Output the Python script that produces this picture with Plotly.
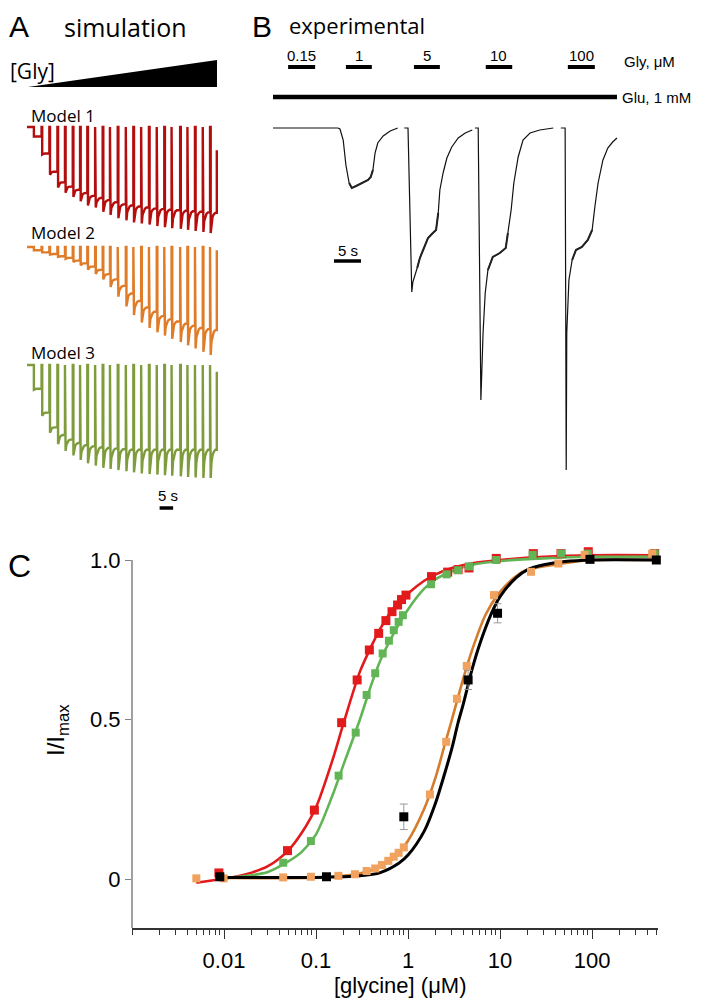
"""
Glycine dose-response figure: simulated traces (A), experimental trace (B), Hill curves (C).
"""

import plotly.graph_objects as go

# the page body keeps its default 8 px margin, so the figure is a bit smaller
# than the window and all positions below are given in window pixels
OFF = 8
W, H = 710 - OFF, 999 - OFF


def fx(px):
    return (px - OFF) / W


def fy(py):
    return 1 - (py - OFF) / H


# ---------------- panel A: simulated pulse trains ----------------
pulse_onsets = [2.4, 5.6, 8.6, 11.7, 14.6, 17.6, 20.4, 23.2, 26.2, 29.1, 31.9, 34.9,
                38.0, 40.9, 43.9, 46.9, 49.9, 52.8, 55.6, 58.9, 61.7, 64.6, 67.6, 70.4]
train_end = 73.0

m1_peak = [0.09, 0.26, 0.45, 0.57, 0.62, 0.66, 0.70, 0.74, 0.76, 0.80, 0.83, 0.86,
           0.88, 0.90, 0.91, 0.92, 0.935, 0.945, 0.955, 0.96, 0.97, 0.98, 0.99, 1.0]
m1_plateau = [0.09, 0.25, 0.42, 0.52, 0.56, 0.59, 0.62, 0.65, 0.67, 0.69, 0.71, 0.73,
              0.74, 0.75, 0.76, 0.77, 0.775, 0.78, 0.785, 0.79, 0.795, 0.80, 0.805, 0.81]
m1_end = 0.22

m2_peak = [0.03, 0.05, 0.07, 0.09, 0.11, 0.14, 0.17, 0.21, 0.25, 0.30, 0.37, 0.46,
           0.55, 0.63, 0.70, 0.75, 0.79, 0.82, 0.85, 0.88, 0.91, 0.94, 0.97, 1.0]
m2_plateau = [0.03, 0.05, 0.065, 0.085, 0.10, 0.125, 0.15, 0.18, 0.21, 0.25, 0.30, 0.36,
              0.43, 0.50, 0.56, 0.60, 0.64, 0.67, 0.69, 0.71, 0.73, 0.75, 0.76, 0.77]
m2_end = 0.03

m3_peak = [0.22, 0.45, 0.60, 0.70, 0.76, 0.80, 0.84, 0.87, 0.89, 0.91, 0.92, 0.93,
           0.94, 0.95, 0.96, 0.965, 0.97, 0.975, 0.98, 0.985, 0.99, 0.995, 1.0, 1.0]
m3_plateau = [0.21, 0.42, 0.55, 0.62, 0.66, 0.69, 0.71, 0.72, 0.73, 0.735, 0.74, 0.745,
              0.75, 0.75, 0.75, 0.75, 0.75, 0.75, 0.75, 0.75, 0.75, 0.75, 0.75, 0.75]
m3_end = 0.06

# shape of the relaxation from peak to plateau within one pulse
GAP = 0.25
hook_dt = [0.3, 0.7, 1.2, 1.8]
hook_frac = [0.45, 0.2, 0.07, 0.0]


def pulse_train(onsets, peaks, plateaus, end_level):
    t, v = [0.0], [0.0]
    level = 0.0
    for t0, pk, pl in zip(onsets, peaks, plateaus):
        t += [t0, t0, t0 + GAP, t0 + GAP]
        v += [level, 0.0, 0.0, -pk]
        for dt, fr in zip(hook_dt, hook_frac):
            t.append(t0 + GAP + dt)
            v.append(-(pl + (pk - pl) * fr))
        level = -pl
    t += [train_end, train_end]
    v += [level, -end_level]
    return t, v


# ---------------- panel B: experimental trace ----------------
exp_t = [0.0, 5.0, 8.7, 12.0, 12.4, 13.0, 13.5, 14.1, 14.6, 15.4, 16.5, 17.6, 18.1, 18.5,
         18.9, 19.4, 20.4, 21.7, 23.1, None,
         24.3, 25.0, 25.7, 25.9, 26.7, 27.2, 27.8, 28.7, 29.6, 30.2, 30.6, 30.9, 31.5,
         32.2, 33.1, 34.3, 35.6, 36.9, None,
         37.4, 38.0, 38.5, 38.9, 39.3, 39.8, 40.7, 42.0, 43.1, 43.5, 44.1, 44.6, 45.4,
         46.3, 47.6, 49.4, 51.9, None,
         53.3, 54.1, 54.3, 54.4, 54.8, 55.4, 56.1, 57.2, 58.3, 59.1, 59.6, 60.2, 61.1,
         62.0, 62.9, 63.7]
exp_i = [0.0, 0.0, 0.005, 0.0, -0.01, -0.12, -0.37, -0.55, -0.60, -0.58, -0.55, -0.52,
         -0.49, -0.42, -0.25, -0.15, -0.08, -0.03, 0.0, None,
         0.0, 0.0, -1.64, -1.54, -1.40, -1.30, -1.22, -1.10, -1.05, -1.02, -0.85, -0.62,
         -0.45, -0.30, -0.19, -0.10, -0.05, -0.02, None,
         0.0, 0.0, -2.72, -2.05, -1.65, -1.42, -1.29, -1.25, -1.20, -1.05, -0.82, -0.55,
         -0.29, -0.12, -0.05, -0.02, 0.0, None,
         0.0, 0.0, -3.42, -2.05, -1.52, -1.32, -1.22, -1.19, -1.12, -1.02, -0.79, -0.55,
         -0.32, -0.20, -0.14, -0.10]
# stretches of the recording that look thick because of noise
noisy_spans = [(14.1, 18.5), (26.7, 30.6), (39.8, 43.5), (55.4, 59.1)]

gly_labels = ["0.15", "1", "5", "10", "100"]
gly_on = [2.8, 13.5, 26.1, 39.4, 54.6]
gly_off = [7.8, 18.3, 30.9, 44.3, 59.6]
glu_on, glu_off = 0.0, 63.7

# ---------------- panel C: dose-response ----------------
red_x = [0.0088, 0.049, 0.096, 0.19, 0.28, 0.38, 0.48, 0.575, 0.67, 0.77, 0.85, 0.95,
         1.8, 2.7, 3.5, 4.6, 9.1, 23, 46, 91, 480]
red_y = [0.019, 0.089, 0.216, 0.49, 0.624, 0.718, 0.77, 0.81, 0.838, 0.859, 0.876, 0.89,
         0.948, 0.962, 0.97, 0.975, 1.005, 1.02, 1.02, 1.026, 1.02]

green_x = [0.044, 0.088, 0.176, 0.27, 0.355, 0.44, 0.53, 0.62, 0.70, 0.79, 0.88,
           1.78, 2.63, 3.5, 4.6, 9.1, 22.6, 46, 90, 480]
green_y = [0.051, 0.119, 0.324, 0.459, 0.577, 0.645, 0.707, 0.747, 0.78, 0.806, 0.827,
           0.924, 0.955, 0.968, 0.98, 1.0, 1.016, 1.02, 1.02, 1.02]

orange_x = [0.005, 0.0099, 0.044, 0.088, 0.175, 0.265, 0.355, 0.44, 0.52, 0.61, 0.70,
            0.79, 0.90, 1.73, 2.6, 3.4, 4.35, 8.6, 21.7, 43, 83, 450]
orange_y = [0.002, 0.002, 0.005, 0.007, 0.01, 0.015, 0.025, 0.033, 0.044, 0.057, 0.07,
            0.082, 0.099, 0.265, 0.43, 0.565, 0.668, 0.89, 0.963, 0.989, 1.016, 1.02]

black_x = [0.009, 0.13, 0.9, 4.5, 9.4, 95, 500]
black_y = [0.007, 0.007, 0.195, 0.624, 0.833, 1.002, 1.0]
black_err = [0.01, 0.01, 0.04, 0.03, 0.03, 0.01, 0.01]

red_fit_x = [0.005, 0.008, 0.012, 0.02, 0.03, 0.05, 0.07, 0.1, 0.15, 0.2, 0.3, 0.4, 0.5,
             0.7, 1, 1.5, 2, 3, 5, 10, 30, 100, 500]
red_fit_y = [-0.012, -0.003, 0.005, 0.02, 0.04, 0.09, 0.145, 0.225, 0.37, 0.49, 0.65,
             0.73, 0.785, 0.85, 0.895, 0.935, 0.955, 0.975, 0.99, 1.0, 1.01, 1.015, 1.015]

green_fit_x = [0.01, 0.02, 0.03, 0.05, 0.07, 0.1, 0.15, 0.2, 0.3, 0.4, 0.5, 0.7, 1, 1.5,
               2, 3, 5, 10, 30, 100, 500]
green_fit_y = [0.003, 0.012, 0.022, 0.055, 0.085, 0.14, 0.26, 0.36, 0.5, 0.61, 0.685,
               0.77, 0.845, 0.91, 0.94, 0.965, 0.985, 0.997, 1.005, 1.01, 1.01]

orange_fit_x = [0.01, 0.1, 0.2, 0.3, 0.5, 0.7, 1, 1.5, 2, 2.5, 3, 4, 5, 7, 10, 15, 20,
                50, 100, 500]
orange_fit_y = [0.003, 0.004, 0.01, 0.017, 0.04, 0.065, 0.12, 0.22, 0.32, 0.42, 0.5,
                0.63, 0.72, 0.83, 0.9, 0.95, 0.97, 0.99, 1.0, 1.0]

black_fit_x = [0.009, 0.1, 0.3, 0.5, 0.8, 1, 1.5, 2, 2.5, 3, 3.5, 4, 5, 6, 8, 10, 15,
               20, 30, 50, 100, 500]
black_fit_y = [0.005, 0.005, 0.01, 0.02, 0.05, 0.075, 0.15, 0.24, 0.33, 0.41, 0.49,
               0.55, 0.66, 0.735, 0.83, 0.885, 0.945, 0.97, 0.985, 0.995, 1.0, 1.0]

x_major = [0.01, 0.1, 1, 10, 100]
x_major_text = ["0.01", "0.1", "1", "10", "100"]
x_minor = [m * d for d in (0.001, 0.01, 0.1, 1, 10, 100) for m in range(1, 10)
           if m * d <= 500 and m * d not in x_major]

RED_A, ORANGE_A, GREEN_A = "#b30d0d", "#e07b28", "#7e9c3c"
RED, GREEN, ORANGE_M, ORANGE_L = "#e31a1c", "#62b556", "#f0a25e", "#d47c2c"

fig = go.Figure()

# panel A
for yref, peaks, plats, end, col in (("y", m1_peak, m1_plateau, m1_end, RED_A),
                                     ("y2", m2_peak, m2_plateau, m2_end, ORANGE_A),
                                     ("y3", m3_peak, m3_plateau, m3_end, GREEN_A)):
    t, v = pulse_train(pulse_onsets, peaks, plats, end)
    fig.add_trace(go.Scatter(x=t, y=v, xaxis="x", yaxis=yref, mode="lines",
                             line=dict(color=col, width=2.4), hoverinfo="skip"))

# panel B
fig.add_trace(go.Scatter(x=exp_t, y=exp_i, xaxis="x2", yaxis="y4", mode="lines",
                         line=dict(color="#111111", width=1.2), connectgaps=False,
                         hoverinfo="skip"))
for lo, hi in noisy_spans:
    pts = [(t, i) for t, i in zip(exp_t, exp_i) if t is not None and lo <= t <= hi]
    fig.add_trace(go.Scatter(x=[p[0] for p in pts], y=[p[1] for p in pts],
                             xaxis="x2", yaxis="y4", mode="lines",
                             line=dict(color="#222222", width=2.0), hoverinfo="skip"))

# panel C fits
for fx_, fy_, col, w in ((red_fit_x, red_fit_y, RED, 2.6),
                         (green_fit_x, green_fit_y, GREEN, 2.6),
                         (orange_fit_x, orange_fit_y, ORANGE_L, 2.6),
                         (black_fit_x, black_fit_y, "black", 3.0)):
    fig.add_trace(go.Scatter(x=fx_, y=fy_, xaxis="x3", yaxis="y5", mode="lines",
                             line=dict(color=col, width=w, shape="spline", smoothing=0.8),
                             hoverinfo="skip"))

for px_, py_, col, sz in ((red_x, red_y, RED, 9),
                          (green_x, green_y, GREEN, 8),
                          (orange_x, orange_y, ORANGE_M, 8)):
    fig.add_trace(go.Scatter(x=px_, y=py_, xaxis="x3", yaxis="y5", mode="markers",
                             marker=dict(symbol="square", color=col, size=sz),
                             cliponaxis=False))
fig.add_trace(go.Scatter(x=black_x, y=black_y, xaxis="x3", yaxis="y5", mode="markers",
                         marker=dict(symbol="square", color="black", size=9),
                         error_y=dict(type="data", array=black_err, color="#999999",
                                      thickness=1, width=4),
                         cliponaxis=False))

# ---------------- shapes ----------------
shapes = []
# glycine wedge (A)
shapes.append(dict(type="path", xref="paper", yref="paper",
                   path=f"M {fx(28)},{fy(87)} L {fx(217)},{fy(87)} L {fx(217)},{fy(60)} Z",
                   fillcolor="black", line=dict(width=0)))
# 5 s scale bar (A)
shapes.append(dict(type="line", xref="x", yref="paper", x0=51, x1=56.2,
                   y0=fy(508), y1=fy(508), line=dict(color="black", width=3.5)))
# Gly and Glu bars (B)
for on, off in zip(gly_on, gly_off):
    shapes.append(dict(type="line", xref="x2", yref="paper", x0=on, x1=off,
                       y0=fy(67), y1=fy(67), line=dict(color="black", width=4)))
shapes.append(dict(type="line", xref="x2", yref="paper", x0=glu_on, x1=glu_off,
                   y0=fy(97), y1=fy(97), line=dict(color="black", width=4.5)))
# 5 s scale bar (B)
shapes.append(dict(type="line", xref="x2", yref="paper", x0=11.3, x1=16.3,
                   y0=fy(261), y1=fy(261), line=dict(color="black", width=3.5)))
# y axis line of C, ending at 1.0
shapes.append(dict(type="line", xref="paper", yref="y5", x0=fx(132), x1=fx(132),
                   y0=-0.1536, y1=1.0, line=dict(color="#808080", width=1.5)))
fig.update_layout(shapes=shapes)

# ---------------- text ----------------
SANS = "Open Sans, Noto Sans, sans-serif"
ARIAL = "Liberation Sans, Arial, sans-serif"
ann = []


def text(s, x, y, size, font=SANS, xanchor="center", angle=0, yanchor="middle"):
    ann.append(dict(text=s, x=fx(x), y=fy(y), xref="paper", yref="paper",
                    showarrow=False, xanchor=xanchor, yanchor=yanchor,
                    textangle=angle, font=dict(size=size, family=font, color="black")))


text("A", 19, OFF, 30, ARIAL, yanchor="top")
text("simulation", 125, OFF, 25, yanchor="top")
text("B", 262, OFF, 30, ARIAL, yanchor="top")
text("experimental", 357, OFF, 22, yanchor="top")
text("[Gly]", 8, 71, 21, xanchor="left")
text("Model 1", 29, 115, 17, xanchor="left")
text("Model 2", 29, 232, 17, xanchor="left")
text("Model 3", 29, 353, 17, xanchor="left")
text("5 s", 168, 495, 15, ARIAL)
text("5 s", 348, 250, 15, ARIAL)
for lab, on, off in zip(gly_labels, gly_on, gly_off):
    ann.append(dict(text=lab, x=(on + off) / 2, y=fy(55), xref="x2", yref="paper",
                    showarrow=False, yanchor="middle",
                    font=dict(size=15, family=ARIAL, color="black")))
text("Gly, μM", 622, 62, 15, ARIAL, xanchor="left")
text("Glu, 1 mM", 620, 98, 15, ARIAL, xanchor="left")
text("C", 19, 566, 32, ARIAL)
text("I/I<sub>max</sub>", 57, 730, 24, ARIAL, angle=-90)
text("[glycine] (μM)", 400, 985, 22, ARIAL)
fig.update_layout(annotations=ann)


def band(top, bottom, pad=6):
    span = bottom - top
    return dict(domain=[fy(bottom + pad), fy(top - pad)],
                range=[-1 - pad / span, pad / span], visible=False, fixedrange=True)


fig.update_layout(
    width=W, height=H, margin=dict(l=0, r=0, t=0, b=0),
    paper_bgcolor="white", plot_bgcolor="rgba(0,0,0,0)", showlegend=False,
    xaxis=dict(domain=[fx(20), fx(225)], range=[(20 - 27) / 2.6, (225 - 27) / 2.6],
               visible=False),
    yaxis=dict(anchor="x", **band(127, 233)),
    yaxis2=dict(anchor="x", **band(247, 355)),
    yaxis3=dict(anchor="x", **band(365, 478)),
    xaxis2=dict(domain=[fx(265), fx(625)], range=[(265 - 273) / 5.4, (625 - 273) / 5.4],
                visible=False, anchor="y4"),
    yaxis4=dict(domain=[fy(490), fy(110)], range=[-3.62, 0.18], visible=False,
                anchor="x2"),
    xaxis3=dict(domain=[fx(132), fx(658)], type="log", range=[-3, 2.717], anchor="y5",
                showline=True, linecolor="#333333", linewidth=1.5, showgrid=False,
                zeroline=False, ticks="outside", ticklen=9, tickwidth=1.3,
                tickcolor="#333333", tickvals=x_major, ticktext=x_major_text,
                ticklabelstandoff=3,
                tickfont=dict(size=22, family=ARIAL, color="black"),
                minor=dict(tickvals=x_minor, ticks="outside", ticklen=5, tickwidth=1,
                           tickcolor="#333333", showgrid=False)),
    yaxis5=dict(domain=[fy(928), fy(540)], range=[-0.1536, 1.0627], anchor="x3",
                showline=False, showgrid=False, zeroline=False, ticks="outside",
                ticklen=6, tickcolor="#808080", tickwidth=1.3, tickvals=[0, 0.5, 1.0],
                ticktext=["0", "0.5", "1.0"],
                tickfont=dict(size=22, family=ARIAL, color="black")),
)

fig.write_html("out.html")
